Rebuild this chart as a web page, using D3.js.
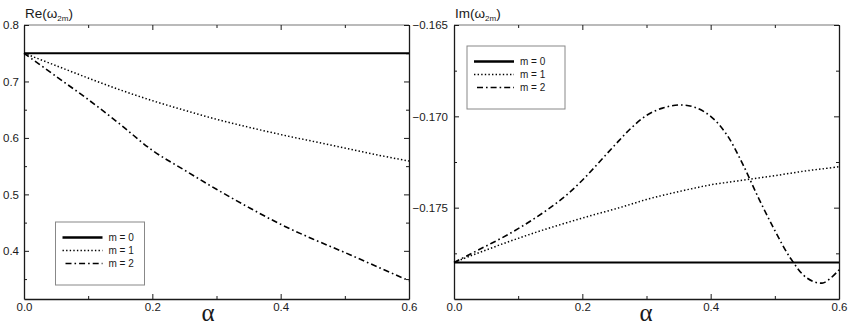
<!DOCTYPE html>
<html>
<head>
<meta charset="utf-8">
<script src="https://cdn.jsdelivr.net/npm/d3@7"></script>
<style>
  html, body { margin: 0; padding: 0; background: #fff; }
  svg { display: block; font-family: "Liberation Sans", Arial, sans-serif; }
</style>
</head>
<body>
<svg id="chart" width="850" height="328"></svg>
<script>
/** alpha grid */
const alphaRe = [0, 0.05, 0.1, 0.15, 0.2, 0.25, 0.3, 0.35, 0.4, 0.45, 0.5, 0.55, 0.6];
const reM0 = [0.75, 0.75, 0.75, 0.75, 0.75, 0.75, 0.75, 0.75, 0.75, 0.75, 0.75, 0.75, 0.75];
const reM1 = [0.75, 0.728, 0.706, 0.685, 0.666, 0.649, 0.633, 0.619, 0.606, 0.594, 0.582, 0.570, 0.559];
const reM2 = [0.75, 0.709, 0.668, 0.624, 0.578, 0.543, 0.509, 0.477, 0.447, 0.421, 0.397, 0.372, 0.347];

const alphaIm = [0, 0.025, 0.05, 0.075, 0.1, 0.125, 0.15, 0.175, 0.2, 0.225, 0.25, 0.275, 0.3,
  0.325, 0.35, 0.375, 0.4, 0.425, 0.45, 0.475, 0.5, 0.525, 0.55, 0.575, 0.6];
const imM0 = [-0.178, -0.178, -0.178, -0.178, -0.178, -0.178, -0.178, -0.178, -0.178, -0.178, -0.178,
  -0.178, -0.178, -0.178, -0.178, -0.178, -0.178, -0.178, -0.178, -0.178, -0.178, -0.178, -0.178,
  -0.178, -0.178];
const imM1 = [-0.1780, -0.17765, -0.17732, -0.17699, -0.17668, -0.17638, -0.17610, -0.17583, -0.17557,
  -0.17532, -0.17508, -0.17482, -0.17455, -0.17433, -0.17412, -0.17393, -0.17375, -0.17362, -0.17350,
  -0.17337, -0.17325, -0.17311, -0.17298, -0.17287, -0.17276];
const imM2 = [-0.17800, -0.17755, -0.17710, -0.17665, -0.17615, -0.17560, -0.17500, -0.17432, -0.17350,
  -0.17256, -0.17160, -0.17068, -0.16995, -0.16955, -0.16938, -0.16950, -0.17000, -0.17100, -0.17262,
  -0.17450, -0.17625, -0.17780, -0.17885, -0.17912, -0.17840];

const xTicks = [0, 0.2, 0.4, 0.6];
const xMinor = [0.1, 0.3, 0.5];
const reTicks = [0.4, 0.5, 0.6, 0.7, 0.8];
const reMinor = [0.35, 0.45, 0.55, 0.65, 0.75];
const imTicks = [-0.175, -0.170, -0.165];
const imMinor = [-0.1775, -0.1725, -0.1675];
const legendNames = ["m = 0", "m = 1", "m = 2"];

const styles = [
  { width: 2, dash: null },
  { width: 1.5, dash: "1.4 2.2" },
  { width: 1.6, dash: "6 3 1.6 3" },
];

const svg = d3.select("#chart");
const ink = "#1a1a1a";

/** draw one panel */
const panel = ({ left, right, top, bottom, yDomain, yTicks, yMinor, fmt, alpha, series, title, legend, alphaX, yPad }) => {
  const x = d3.scaleLinear().domain([0, 0.6]).range([left, right]);
  const y = d3.scaleLinear().domain(yDomain).range([bottom, top]);
  const g = svg.append("g");

  /** frame */
  g.append("line").attr("x1", left).attr("x2", right).attr("y1", top).attr("y2", top)
    .attr("stroke", "#777").attr("stroke-width", 1.2);

  const styleAxis = (sel) => {
    sel.select(".domain").attr("stroke", ink).attr("stroke-width", 1.3);
    sel.selectAll(".tick line").attr("stroke", ink);
    sel.selectAll(".tick text").attr("fill", ink).attr("font-size", 11.5)
      .attr("font-family", "Liberation Sans, Arial, sans-serif");
  };

  // major ticks
  g.append("g").attr("transform", `translate(0,${bottom})`)
    .call(d3.axisBottom(x).tickValues(xTicks).tickFormat(d3.format(".1f"))
      .tickSizeInner(-5).tickSizeOuter(0).tickPadding(4)).call(styleAxis);
  g.append("g").attr("transform", `translate(0,${top})`)
    .call(d3.axisTop(x).tickValues(xTicks).tickFormat("").tickSizeInner(-5).tickSizeOuter(0))
    .call(styleAxis).select(".domain").remove();
  g.append("g").attr("transform", `translate(${left},0)`)
    .call(d3.axisLeft(y).tickValues(yTicks).tickFormat(fmt)
      .tickSizeInner(-5).tickSizeOuter(0).tickPadding(yPad)).call(styleAxis);
  g.append("g").attr("transform", `translate(${right},0)`)
    .call(d3.axisRight(y).tickValues(yTicks).tickFormat("").tickSizeInner(-5).tickSizeOuter(0))
    .call(styleAxis);

  // minor ticks
  g.append("g").attr("transform", `translate(0,${bottom})`)
    .call(d3.axisBottom(x).tickValues(xMinor).tickFormat("").tickSizeInner(-3).tickSizeOuter(0))
    .call(styleAxis).select(".domain").remove();
  g.append("g").attr("transform", `translate(0,${top})`)
    .call(d3.axisTop(x).tickValues(xMinor).tickFormat("").tickSizeInner(-3).tickSizeOuter(0))
    .call(styleAxis).select(".domain").remove();
  g.append("g").attr("transform", `translate(${left},0)`)
    .call(d3.axisLeft(y).tickValues(yMinor).tickFormat("").tickSizeInner(-3).tickSizeOuter(0))
    .call(styleAxis).select(".domain").remove();
  g.append("g").attr("transform", `translate(${right},0)`)
    .call(d3.axisRight(y).tickValues(yMinor).tickFormat("").tickSizeInner(-3).tickSizeOuter(0))
    .call(styleAxis).select(".domain").remove();

  /** curves */
  const line = d3.line().curve(d3.curveCatmullRom.alpha(0.5)).x((d) => x(d[0])).y((d) => y(d[1]));
  series.forEach((vals, i) => {
    g.append("path")
      .attr("d", line(alpha.map((a, k) => [a, vals[k]])))
      .attr("fill", "none").attr("stroke", "#000")
      .attr("stroke-width", styles[i].width)
      .attr("stroke-dasharray", styles[i].dash);
  });

  /** y title */
  const t = g.append("text").attr("x", left + 1).attr("y", top - 7)
    .attr("font-size", 13.5).attr("fill", ink);
  t.append("tspan").text(title + "(ω");
  t.append("tspan").text("2m").attr("font-size", 8).attr("dy", 3);
  t.append("tspan").text(")").attr("dy", -3);

  /** x title */
  g.append("text").attr("x", alphaX).attr("y", 321).attr("text-anchor", "middle")
    .attr("font-size", 25).attr("font-family", "Liberation Serif, serif").attr("fill", ink)
    .text("α");

  /** legend */
  g.append("rect").attr("x", legend.x).attr("y", legend.y).attr("width", legend.w).attr("height", legend.h)
    .attr("fill", "#fff").attr("stroke", "#888").attr("stroke-width", 1);
  legendNames.forEach((name, i) => {
    const ly = legend.y + 15.5 + i * 13;
    g.append("line")
      .attr("x1", legend.x + (i === 2 ? 10 : 7)).attr("x2", legend.x + 47)
      .attr("y1", ly).attr("y2", ly)
      .attr("stroke", "#000").attr("stroke-width", i === 0 ? 2.5 : styles[i].width)
      .attr("stroke-dasharray", styles[i].dash);
    g.append("text").attr("x", legend.x + 53).attr("y", ly + 3.5)
      .attr("font-size", 10).attr("fill", ink).text(name);
  });
};

panel({
  left: 24, right: 409, top: 25, bottom: 299,
  yDomain: [0.3147, 0.8], yTicks: reTicks, yMinor: reMinor, fmt: d3.format(".1f"),
  alpha: alphaRe, series: [reM0, reM1, reM2], title: "Re", alphaX: 208, yPad: 5,
  legend: { x: 55.5, y: 222, w: 89, h: 63 },
});

panel({
  left: 454, right: 839, top: 25, bottom: 299,
  yDomain: [-0.18, -0.165], yTicks: imTicks, yMinor: imMinor, fmt: d3.format(".3f"),
  alpha: alphaIm, series: [imM0, imM1, imM2], title: "Im", alphaX: 646, yPad: 6,
  legend: { x: 467, y: 46, w: 98, h: 63 },
});
</script>
</body>
</html>
